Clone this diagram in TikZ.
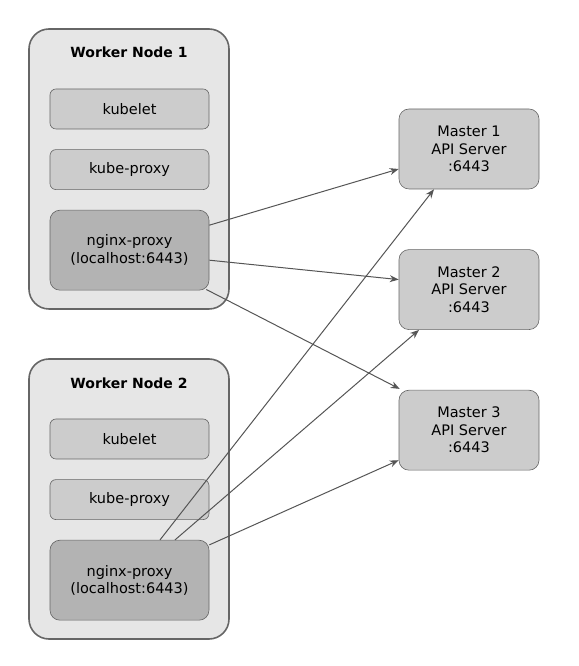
\documentclass[tikz,border=0pt]{standalone}
\usepackage{fontspec}
\setmainfont{DejaVu Sans}
\usepackage{xcolor}
\usepackage{tikz}
\usetikzlibrary{positioning,arrows.meta}
\definecolor{edgegray}{RGB}{102, 102, 102}
\definecolor{workerfill}{RGB}{230, 230, 230}
\definecolor{partfill}{RGB}{204, 204, 204}
\definecolor{proxyfill}{RGB}{179, 179, 179}
\definecolor{linkgray}{RGB}{85, 85, 85}
\tikzset{
    worker/.style={draw=edgegray, fill=workerfill, line width=1.6pt, rounded corners=20pt, minimum width=200pt, minimum height=280pt},
    part/.style={draw=edgegray, fill=partfill, line width=0.6pt, rounded corners=6pt, minimum width=159pt, minimum height=40pt, align=center},
    proxy/.style={part, fill=proxyfill, minimum height=80pt, rounded corners=10pt},
    master/.style={part, minimum width=140pt, minimum height=80pt, rounded corners=10pt},
    title/.style={font=\fontsize{14}{17.5}\selectfont\bfseries},
    link/.style={draw=linkgray, line width=1pt, -{Stealth[length=9pt, width=7pt]}}
}

\begin{document}
\begin{tikzpicture}[x=1pt, y=1pt, font=\fontsize{14.5}{17.5}\selectfont]
    \useasboundingbox (0,0) rectangle (578,666);

    \node[worker] (worker1) at (129,497) {};
    \node[title] (title1) at (129,614) {Worker Node 1};
    \node[part] (kubelet1) at (129.5,557) {kubelet};
    \node[part, below=20pt of kubelet1] (kubeproxy1) {kube-proxy};
    \node[proxy, below=20pt of kubeproxy1] (nginx1) {nginx-proxy\\(localhost:6443)};

    \node[worker] (worker2) at (129,167) {};
    \node[title] (title2) at (129,283) {Worker Node 2};
    \node[part] (kubelet2) at (129.5,227) {kubelet};
    \node[part, below=20pt of kubelet2] (kubeproxy2) {kube-proxy};
    \node[proxy, below=20pt of kubeproxy2] (nginx2) {nginx-proxy\\(localhost:6443)};

    \node[master] (master1) at (469,517) {Master 1\\API Server\\:6443};
    \node[master, below=60pt of master1] (master2) {Master 2\\API Server\\:6443};
    \node[master, below=60pt of master2] (master3) {Master 3\\API Server\\:6443};

    \draw[link] ([yshift=25pt]nginx1.east) -- ([yshift=-20pt]master1.west);
    \draw[link] ([yshift=-10pt]nginx1.east) -- ([yshift=10pt]master2.west);
    \draw[link] ([shift={(-3pt,1pt)}]nginx1.south east) -- ([shift={(1pt,1pt)}]master3.north west);

    \draw[link] ([xshift=30.5pt]nginx2.north) -- ([xshift=-35pt]master1.south);
    \draw[link] ([xshift=45.5pt]nginx2.north) -- ([xshift=-50pt]master2.south);
    \draw[link] ([yshift=-5pt]nginx2.north east) -- ([yshift=-30pt]master3.west);
\end{tikzpicture}
\end{document}
